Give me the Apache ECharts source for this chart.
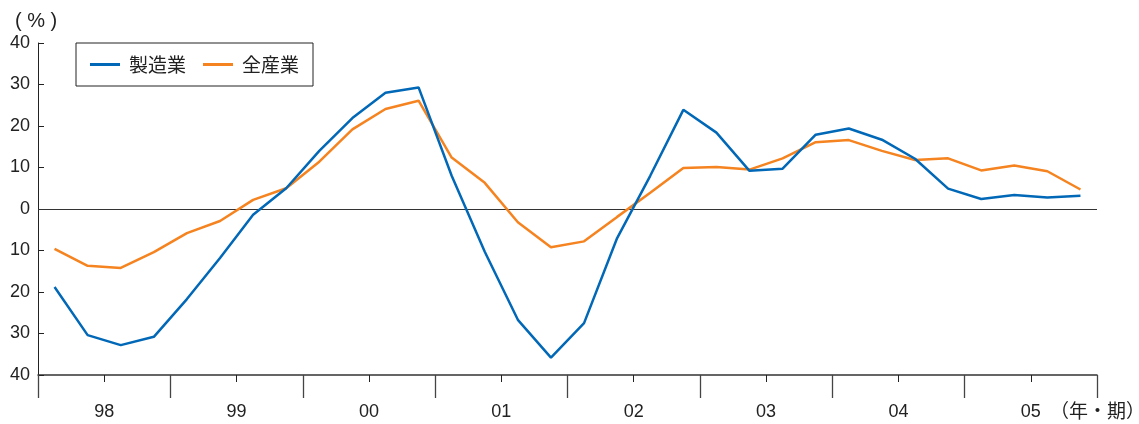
<!DOCTYPE html>
<html><head><meta charset="utf-8">
<script src="https://cdn.jsdelivr.net/npm/echarts@6/dist/echarts.min.js"></script>
<style>html,body{margin:0;padding:0;background:#fff}#c{width:1139px;height:424px}</style>
</head><body><div id="c"></div>
<script>
const quarters = [];
const years = ['98','99','00','01','02','03','04','05'];
years.forEach(y => { for (let q = 1; q <= 4; q++) quarters.push(y + 'Q' + q); });
const yTicks = [-40,-30,-20,-10,0,10,20,30,40];
const manufacturing = [-18.8,-30.4,-32.8,-30.8,-21.7,-11.8,-1.4,5.0,14.0,21.9,28.0,29.3,8.0,-10.3,-26.7,-35.8,-27.5,-7.0,8.0,23.9,18.4,9.2,9.7,17.9,19.4,16.7,12.1,4.9,2.4,3.4,2.8,3.2];
const allIndustry = [-9.6,-13.7,-14.2,-10.4,-5.8,-2.9,2.2,5.0,11.4,19.2,24.1,26.1,12.4,6.3,-3.2,-9.2,-7.8,-1.9,3.9,9.9,10.1,9.5,12.2,16.1,16.6,14.0,11.8,12.2,9.3,10.5,9.1,4.7];
const names = ['製造業','全産業'];
const colors = ['#0068B7','#F5831F'];
const latin = 'Liberation Sans, Arial, sans-serif';
const cjk = '"Noto Sans CJK JP", sans-serif';
const chart = echarts.init(document.getElementById('c'), null, {renderer:'canvas'});
chart.setOption({
  animation:false,
  grid:{left:38,right:42,top:43,bottom:49},
  legend:{
    data:names, left:76, top:43, orient:'horizontal',
    borderColor:'#222', borderWidth:1, borderRadius:0,
    padding:[12,14,12,14], itemGap:17, itemWidth:30, itemHeight:3,
    icon:'rect',
    textStyle:{fontSize:19, color:'#222', fontFamily:cjk, padding:[0,0,0,4]}
  },
  xAxis:[{
    type:'category', data:quarters, boundaryGap:true,
    axisLine:{show:true, onZero:false, lineStyle:{color:'#333', width:1.5}},
    axisTick:{show:true, length:7, lineStyle:{color:'#222'}},
    axisLabel:{show:false}, splitLine:{show:false}
  },{
    type:'category', data:years, boundaryGap:true, position:'bottom',
    axisLine:{show:false, onZero:false},
    axisTick:{show:true, length:23, lineStyle:{color:'#444', width:1.3}},
    axisLabel:{show:true, margin:28, fontSize:18, color:'#222', fontFamily:latin},
    splitLine:{show:false}
  }],
  yAxis:{
    type:'value', min:-40, max:40, interval:10,
    axisLine:{show:true, lineStyle:{color:'#222'}},
    axisTick:{show:true, inside:true, length:6, lineStyle:{color:'#222'}},
    axisLabel:{fontSize:18, color:'#222', fontFamily:latin, margin:8,
      formatter:v => yTicks.includes(v) ? String(Math.abs(v)) : ''},
    splitLine:{show:false}
  },
  series:[{
    name:names[0], type:'line', data:manufacturing, xAxisIndex:0,
    symbol:'none', lineStyle:{color:colors[0], width:2.5}, itemStyle:{color:colors[0]}, z:3,
    markLine:{silent:true, symbol:'none', label:{show:false},
      lineStyle:{color:'#333', width:1.2, type:'solid'}, data:[{yAxis:0}], z:1}
  },{
    name:names[1], type:'line', data:allIndustry, xAxisIndex:0,
    symbol:'none', lineStyle:{color:colors[1], width:2.5}, itemStyle:{color:colors[1]}, z:2
  }],
  graphic:[
    {type:'text', left:15, top:11, style:{text:'( % )', fontSize:20, fill:'#222', fontFamily:latin}},
    {type:'text', left:1050, top:401, style:{text:'（年・期）', fontSize:19, fill:'#222', fontFamily:cjk}}
  ]
});
</script></body></html>
